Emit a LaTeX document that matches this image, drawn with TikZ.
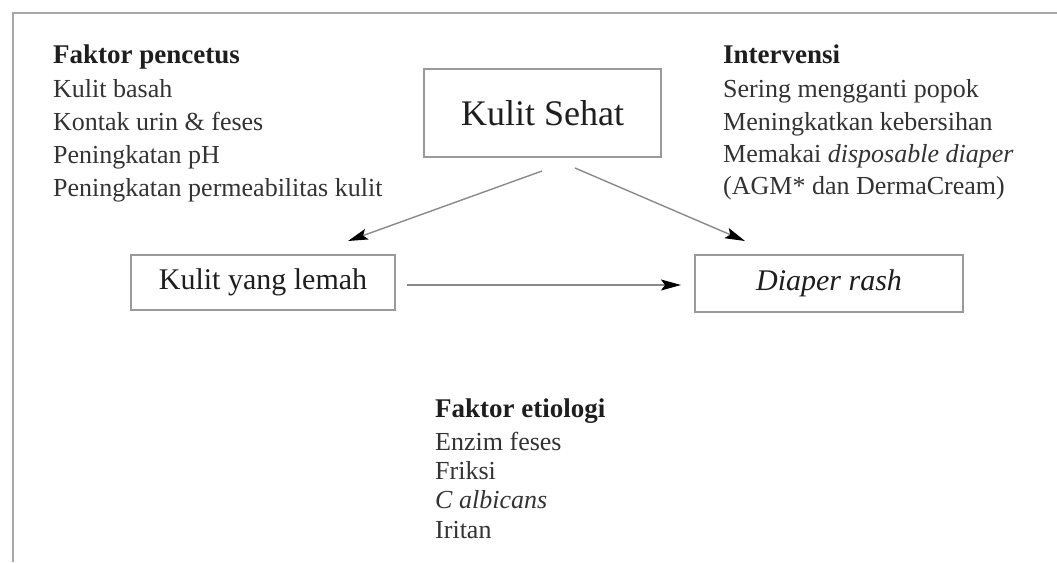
\documentclass[tikz,border=0pt]{standalone}
\usepackage{fontspec}
\setmainfont{Liberation Serif}
\usetikzlibrary{arrows.meta}
\definecolor{framec}{HTML}{A8A8A8}
\definecolor{boxc}{HTML}{9A9A9A}
\definecolor{linec}{HTML}{8A8A8A}
\definecolor{headc}{HTML}{1E1E1E}
\definecolor{bodyc}{HTML}{333333}
\tikzset{
  x=1pt, y=-1pt,
  headtxt/.style={anchor=base west, inner sep=0pt, text=headc, font=\fontsize{27}{30}\selectfont\bfseries},
  bodytxt/.style={anchor=base west, inner sep=0pt, text=bodyc, font=\fontsize{26}{30}\selectfont},
  boxnode/.style={draw=boxc, line width=1.8pt, fill=white, inner sep=0pt, text=headc},
  conn/.style={draw=linec, line width=1.4pt, -{Stealth[length=20pt, width=11pt, inset=4pt, color=black]}}
}
\begin{document}
\begin{tikzpicture}
\useasboundingbox (0,0) rectangle (1057,562);
\fill[white] (0,0) rectangle (1057,562);
% frame
\draw[framec, line width=2pt] (12.5,562) -- (12.5,12.5) -- (1057,12.5);

% boxes
\node[boxnode, minimum width=237pt, minimum height=88pt, font=\fontsize{36}{40}\selectfont] (sehat) at (542.5,113) {Kulit Sehat};
\node[boxnode, minimum width=264pt, minimum height=55pt, font=\fontsize{30}{34}\selectfont] (lemah) at (263,282.5) {Kulit yang lemah};
\node[boxnode, minimum width=268pt, minimum height=57pt, font=\fontsize{30}{34}\selectfont\itshape] (rash) at (829,283.5) {Diaper rash};

% arrow end points
\coordinate (s1) at (542,171);
\coordinate (e1) at (348,241);
\coordinate (s2) at (575,168);
\coordinate (e2) at (745,241);
\coordinate (s3) at (407,285);
\coordinate (e3) at (681,285);
\draw[conn] (s1) -- (e1);
\draw[conn] (s2) -- (e2);
\draw[conn] (s3) -- (e3);

% left block
\node[headtxt] (fp0) at (53,63) {Faktor pencetus};
\node[bodytxt] (fp1) at (53,97) {Kulit basah};
\node[bodytxt] (fp2) at (53,130) {Kontak urin \& feses};
\node[bodytxt] (fp3) at (53,163) {Peningkatan pH};
\node[bodytxt] (fp4) at (53,196) {Peningkatan permeabilitas kulit};

% right block
\node[headtxt] (iv0) at (723,63) {Intervensi};
\node[bodytxt] (iv1) at (723,97) {Sering mengganti popok};
\node[bodytxt] (iv2) at (723,130) {Meningkatkan kebersihan};
\node[bodytxt] (iv3) at (723,162) {Memakai \textit{disposable diaper}};
\node[bodytxt] (iv4) at (723,194) {(AGM* dan DermaCream)};

% bottom block
\node[headtxt] (fe0) at (435,417) {Faktor etiologi};
\node[bodytxt] (fe1) at (435,450) {Enzim feses};
\node[bodytxt] (fe2) at (435,479) {Friksi};
\node[bodytxt] (fe3) at (435,508) {\textit{C albicans}};
\node[bodytxt] (fe4) at (435,538) {Iritan};
\end{tikzpicture}
\end{document}
